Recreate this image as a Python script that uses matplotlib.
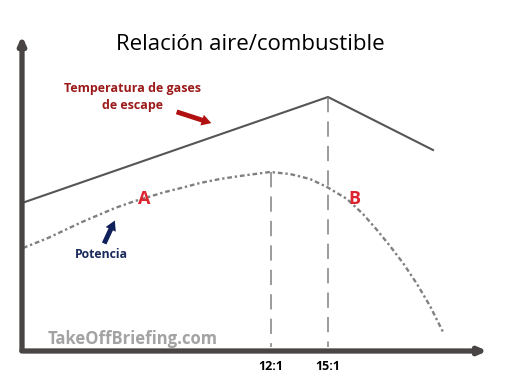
import numpy as np
import matplotlib.pyplot as plt

# units: horizontal/vertical position on the sketch (0-505, 0-381 from top)
temp_x = [22, 328, 433]
temp_y = [203, 97, 150]

pot_x = [23, 48, 82, 115, 135, 165, 185, 200, 220, 240, 270, 290, 310, 327, 347,
         363, 377, 390, 403, 417, 430, 443]
pot_y = [248, 238, 222, 208, 201, 192, 187, 183, 179, 176, 172, 174, 179, 187, 199,
         214, 230, 246, 263, 284, 306, 332]

ratio_x = [271, 328]
ratio_top = [172, 97]
ratio_labels = ['12:1', '15:1']

fig = plt.figure(figsize=(5.05, 3.81), dpi=100, facecolor='white')
ax = fig.add_axes([0, 0, 1, 1])
ax.set_xlim(0, 505)
ax.set_ylim(381, 0)
ax.axis('off')

axis_col = '#4a4545'
# axes with arrow heads
ax.annotate('', xy=(22, 33), xytext=(22, 353),
            arrowprops=dict(arrowstyle='-|>,head_length=0.45,head_width=0.2', lw=3.8, color=axis_col))
ax.annotate('', xy=(490, 351), xytext=(19, 351),
            arrowprops=dict(arrowstyle='-|>,head_length=0.45,head_width=0.2', lw=3.8, color=axis_col))

ax.plot(temp_x, temp_y, color='#555555', lw=1.5)
ax.plot(pot_x, pot_y, color='#808080', lw=1.7, linestyle=(0, (2, 1.2, 1, 1.2)))

for x, top, lab in zip(ratio_x, ratio_top, ratio_labels):
    ax.plot([x, x], [top, 347], color='#808080', lw=1.1, linestyle=(0, (10, 6)))
    ax.text(x, 366, lab, ha='center', va='center', fontsize=9, fontweight='bold',
            family='Open Sans')

ax.text(250, 45, 'Relación aire/combustible', ha='center', va='center', fontsize=16,
        family='Open Sans', color='black')
ax.text(132, 97, 'Temperatura de gases\nde escape', ha='center', va='center', fontsize=9,
        fontweight='bold', color='#9b1b1b', family='Open Sans', linespacing=1.4)
ax.annotate('', xy=(214, 124), xytext=(174, 111),
            arrowprops=dict(arrowstyle='simple,head_length=0.7,head_width=0.8,tail_width=0.35',
                            color='#b01010', lw=0))

ax.text(144, 199, 'A', ha='center', va='center', fontsize=13, fontweight='bold',
        color='#dd2530', family='Open Sans')
ax.text(354, 199, 'B', ha='center', va='center', fontsize=13, fontweight='bold',
        color='#dd2530', family='Open Sans')

ax.text(101, 255, 'Potencia', ha='center', va='center', fontsize=8.8, fontweight='bold',
        color='#1a2a5a', family='Open Sans')
ax.annotate('', xy=(116, 218), xytext=(103, 246),
            arrowprops=dict(arrowstyle='simple,head_length=0.7,head_width=0.8,tail_width=0.35',
                            color='#10205a', lw=0))

ax.text(133, 339, 'TakeOffBriefing.com', ha='center', va='center', fontsize=12,
        fontweight='bold', color='#a3a3a3', family='Open Sans')

fig.savefig('out.png', dpi=100, facecolor='white')
